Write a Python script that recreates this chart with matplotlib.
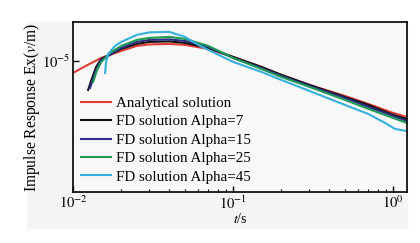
import matplotlib
matplotlib.use("Agg")
import matplotlib.pyplot as plt
from matplotlib.ticker import LogLocator, NullLocator, FixedLocator
import numpy as np

plt.rcParams["font.family"] = ["Liberation Serif", "DejaVu Serif"]
plt.rcParams["mathtext.fontset"] = "stix"

# --- data (E in units of 1e-5 V/m) ---
t_tail = [0.1, 0.15, 0.2, 0.3, 0.5, 0.7, 1.0, 1.22]

t_ana = [0.01, 0.012, 0.015, 0.02, 0.025, 0.03, 0.04, 0.05, 0.07] + t_tail
e_ana = [0.832, 0.926, 1.047, 1.166, 1.259, 1.288, 1.298, 1.279, 1.202,
         1.063, 0.912, 0.807, 0.692, 0.584, 0.517, 0.450, 0.423]

t_a7 = [0.01242, 0.01315, 0.01393, 0.015, 0.02, 0.025, 0.03, 0.04, 0.05, 0.07] + t_tail
e_a7 = [0.641, 0.770, 0.912, 1.031, 1.202, 1.298, 1.339, 1.349, 1.318, 1.221,
        1.063, 0.912, 0.807, 0.692, 0.575, 0.509, 0.437, 0.410]

t_a15 = [0.01277, 0.01393, 0.015, 0.02, 0.025, 0.03, 0.04, 0.05, 0.07] + t_tail
e_a15 = [0.661, 0.871, 1.015, 1.221, 1.339, 1.380, 1.391, 1.359, 1.240,
         1.047, 0.898, 0.794, 0.681, 0.567, 0.494, 0.430, 0.398]

t_a25 = [0.01334, 0.01413, 0.015, 0.01703, 0.02, 0.025, 0.03, 0.04, 0.05, 0.07] + t_tail
e_a25 = [0.724, 0.871, 0.985, 1.131, 1.259, 1.380, 1.423, 1.445, 1.402, 1.259,
         1.047, 0.884, 0.782, 0.671, 0.550, 0.479, 0.417, 0.386]

t_a45 = [0.01585, 0.01608, 0.01655, 0.01831, 0.02, 0.025, 0.03, 0.04, 0.05, 0.0622, 0.07,
         0.1, 0.15, 0.2, 0.3, 0.5, 0.7, 0.891, 1.029, 1.22]
e_a45 = [0.832, 0.985, 1.113, 1.259, 1.339, 1.491, 1.550, 1.561, 1.445, 1.259, 1.184,
         0.985, 0.845, 0.747, 0.631, 0.509, 0.443, 0.386, 0.352, 0.341]

labels = ["Analytical solution", "FD solution Alpha=7", "FD solution Alpha=15",
          "FD solution Alpha=25", "FD solution Alpha=45"]
colors = ["#e03a33", "#111111", "#2c2c86", "#1f9a55", "#36b0dc"]

fig = plt.figure(figsize=(4.2, 2.43), dpi=100, facecolor="white")
# light grey panel behind the plot
fig.patches.append(plt.Rectangle((0.064, 0.062), 0.905, 0.848, transform=fig.transFigure,
                                 color="#f4f4f4", zorder=-10))
ax = fig.add_axes([0.174, 0.21, 0.795, 0.70])
ax.set_zorder(1)
ax.set_facecolor("#f8f8f8")

series = [(t_ana, e_ana), (t_a7, e_a7), (t_a15, e_a15), (t_a25, e_a25), (t_a45, e_a45)]
for (t, e), lab, c in zip(series, labels, colors):
    ax.plot(t, np.array(e) * 1e-5, color=c, lw=1.5, label=lab)

ax.set_xscale("log"); ax.set_yscale("log")
ax.set_xlim(0.01, 1.22)
ax.set_ylim(1.34e-6, 1.82e-5)

ax.xaxis.set_major_locator(FixedLocator([0.01, 0.1, 1.0]))
ax.set_xticklabels([r"$10^{-2}$", r"$10^{-1}$", r"$10^{0}$"])
ax.xaxis.set_minor_locator(LogLocator(base=10, subs=np.arange(2, 10)))
ax.yaxis.set_major_locator(FixedLocator([1e-5]))
ax.set_yticklabels([r"$10^{-5}$"])
ax.yaxis.set_minor_locator(NullLocator())
ax.tick_params(which="both", direction="in", labelsize=10.5, top=False, right=False)
ax.tick_params(which="major", length=4, width=1, pad=2)
ax.tick_params(which="minor", length=2.5, width=0.8)
for s in ax.spines.values():
    s.set_linewidth(1.2)

ax.set_xlabel(r"$t$/s", fontsize=10, labelpad=0)
ax.set_ylabel(r"Impulse Response Ex($v$/m)", fontsize=11.2, labelpad=0)

ax.legend(loc="lower left", bbox_to_anchor=(0.0, 0.0), frameon=False, fontsize=10.8,
          handlelength=2.0, handletextpad=0.3, labelspacing=0.33, borderaxespad=0.15)

fig.savefig("out.png", dpi=100, facecolor="white")
